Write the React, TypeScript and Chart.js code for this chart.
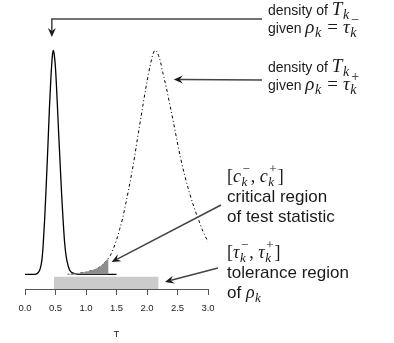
import React, { useEffect, useRef } from "react";
import { Chart, registerables } from "chart.js";
Chart.register(...registerables);

// density of T_k given rho_k = tau_k^- (solid)
const T_SOLID = [0, 0.15, 0.2, 0.25, 0.28, 0.3, 0.325, 0.35, 0.375, 0.4, 0.425, 0.45, 0.465, 0.48, 0.5, 0.525, 0.55, 0.575, 0.6, 0.625, 0.65, 0.675, 0.7, 0.725, 0.75, 0.8, 0.85, 0.9, 1.5];
const D_SOLID = [0, 0, 0.003, 0.025, 0.07, 0.14, 0.26, 0.41, 0.57, 0.74, 0.88, 0.98, 1.0, 0.98, 0.92, 0.79, 0.64, 0.5, 0.36, 0.24, 0.14, 0.08, 0.045, 0.024, 0.012, 0.004, 0.001, 0, 0];

// density of T_k given rho_k = tau_k^+ (dot-dash)
const T_DOT = [0.7, 0.8, 0.9, 1.0, 1.1, 1.2, 1.25, 1.3, 1.35, 1.4, 1.45, 1.5, 1.55, 1.6, 1.64, 1.7, 1.75, 1.8, 1.84, 1.9, 1.93, 2.0, 2.05, 2.1, 2.13, 2.17, 2.22, 2.26, 2.32, 2.38, 2.44, 2.49, 2.55, 2.61, 2.69, 2.77, 2.85, 2.92, 3.0];
const D_DOT = [0, 0.002, 0.005, 0.01, 0.017, 0.028, 0.038, 0.05, 0.065, 0.085, 0.115, 0.153, 0.2, 0.25, 0.3, 0.38, 0.452, 0.53, 0.6, 0.7, 0.75, 0.86, 0.93, 0.985, 1.0, 0.99, 0.95, 0.9, 0.83, 0.75, 0.67, 0.6, 0.52, 0.45, 0.37, 0.3, 0.24, 0.19, 0.145];

// critical region [c-, c+] under the tau+ density
const T_CRIT = [0.7, 0.8, 0.9, 1.0, 1.1, 1.2, 1.25, 1.3, 1.35, 1.37];
const D_CRIT = [0, 0.002, 0.005, 0.01, 0.017, 0.028, 0.038, 0.05, 0.065, 0.072];

// tolerance region [tau-, tau+]
const TOL_RANGE = [0.475, 2.19];
const TOL_TOP = -0.011;

const X_MIN = 0;
const X_MAX = 3;
const X_STEP = 0.5;
const Y_MIN = -0.0657;
const Y_MAX = 1.1;

const SANS = '"Liberation Sans", Arial, Helvetica, sans-serif';
const SERIF = '"Liberation Serif", "Times New Roman", serif';

type Part = { t: string; f: "s" | "m" | "r"; sub?: string; sup?: string; gap?: number };

function drawRich(ctx: CanvasRenderingContext2D, x: number, y: number, parts: Part[], sz: number, msz: number) {
  let cx = x;
  ctx.textBaseline = "alphabetic";
  ctx.textAlign = "left";
  for (const p of parts) {
    const font =
      p.f === "s"
        ? `${sz}px ${SANS}`
        : p.f === "m"
        ? `italic ${msz}px ${SERIF}`
        : `${msz}px ${SERIF}`;
    ctx.font = font;
    cx += p.gap || 0;
    ctx.fillText(p.t, cx, y);
    cx += ctx.measureText(p.t).width + (p.gap || 0);
    if (p.sub || p.sup) {
      const ss = Math.round(msz * 0.72);
      let w = 0;
      if (p.sub) {
        ctx.font = `italic ${ss}px ${SERIF}`;
        ctx.fillText(p.sub, cx + 0.5, y + 4);
        w = Math.max(w, ctx.measureText(p.sub).width);
      }
      if (p.sup) {
        ctx.font = `${ss}px ${SERIF}`;
        ctx.fillText(p.sup, cx + 1.5, y - 9);
        w = Math.max(w, ctx.measureText(p.sup).width + 1);
      }
      cx += w + 1.5;
    }
  }
}

function arrow(ctx: CanvasRenderingContext2D, pts: number[][]) {
  const n = pts.length;
  const [fx, fy] = pts[n - 2];
  const [tx, ty] = pts[n - 1];
  const a = Math.atan2(ty - fy, tx - fx);
  const len = 9;
  const half = 4;
  const c = Math.cos(a);
  const s = Math.sin(a);
  ctx.strokeStyle = "#444";
  ctx.lineWidth = 1.5;
  ctx.setLineDash([]);
  ctx.beginPath();
  ctx.moveTo(pts[0][0], pts[0][1]);
  for (let i = 1; i < n - 1; i++) ctx.lineTo(pts[i][0], pts[i][1]);
  ctx.lineTo(tx - 0.7 * len * c, ty - 0.7 * len * s);
  ctx.stroke();
  ctx.fillStyle = "#1a1a1a";
  ctx.beginPath();
  ctx.moveTo(tx, ty);
  ctx.lineTo(tx - len * c + half * s, ty - len * s - half * c);
  ctx.lineTo(tx - 0.65 * len * c, ty - 0.65 * len * s);
  ctx.lineTo(tx - len * c - half * s, ty - len * s + half * c);
  ctx.closePath();
  ctx.fill();
}

const annot = {
  id: "annot",
  afterDraw(chart: any) {
    const ctx: CanvasRenderingContext2D = chart.ctx;
    const xs = chart.scales.x;
    const ys = chart.scales.y;
    const px = (v: number) => xs.getPixelForValue(v);
    const py = (v: number) => ys.getPixelForValue(v);
    ctx.save();
    // arrows
    arrow(ctx, [[262, 19], [px(0.44), 19], [px(0.44), py(1.06)]]);
    arrow(ctx, [[262, 80], [px(2.44), py(0.87)]]);
    arrow(ctx, [[221, 205], [px(1.42), py(0.055)]]);
    arrow(ctx, [[218, 268], [px(2.295), py(-0.034)]]);
    // labels
    ctx.fillStyle = "#1a1a1a";
    const S = 14;
    const M = 19;
    drawRich(ctx, 268, 15, [{ t: "density of ", f: "s" }, { t: "T", f: "m", sub: "k" }], S, M);
    drawRich(ctx, 268, 33, [{ t: "given ", f: "s" }, { t: "ρ", f: "m", sub: "k" }, { t: "=", f: "r", gap: 5 }, { t: "τ", f: "m", sub: "k", sup: "−" }], S, M);
    drawRich(ctx, 268, 72, [{ t: "density of ", f: "s" }, { t: "T", f: "m", sub: "k" }], S, M);
    drawRich(ctx, 268, 90, [{ t: "given ", f: "s" }, { t: "ρ", f: "m", sub: "k" }, { t: "=", f: "r", gap: 5 }, { t: "τ", f: "m", sub: "k", sup: "+" }], S, M);
    const L = 17;
    const LM = 18;
    drawRich(ctx, 227, 182, [{ t: "[", f: "r" }, { t: "c", f: "m", sub: "k", sup: "−" }, { t: ", ", f: "r" }, { t: "c", f: "m", sub: "k", sup: "+" }, { t: "]", f: "r" }], L, LM);
    drawRich(ctx, 227, 202, [{ t: "critical region", f: "s" }], L, LM);
    drawRich(ctx, 227, 222, [{ t: "of test statistic", f: "s" }], L, LM);
    drawRich(ctx, 227, 258, [{ t: "[", f: "r" }, { t: "τ", f: "m", sub: "k", sup: "−" }, { t: ", ", f: "r" }, { t: "τ", f: "m", sub: "k", sup: "+" }, { t: "]", f: "r" }], L, LM);
    drawRich(ctx, 227, 278, [{ t: "tolerance region", f: "s" }], L, LM);
    drawRich(ctx, 227, 298, [{ t: "of ", f: "s" }, { t: "ρ", f: "m", sub: "k" }], L, LM);
    ctx.restore();
  },
};

const pts = (xs: number[], ys: number[]) => xs.map((x, i) => ({ x, y: ys[i] }));

export default function App() {
  const ref = useRef<HTMLCanvasElement>(null);
  useEffect(() => {
    if (!ref.current) return;
    const chart = new Chart(ref.current, {
      type: "line",
      data: {
        datasets: [
          {
            data: [{ x: TOL_RANGE[0], y: TOL_TOP }, { x: TOL_RANGE[1], y: TOL_TOP }],
            fill: { value: Y_MIN },
            backgroundColor: "#cbcbcb",
            borderColor: "rgba(0,0,0,0)",
            borderWidth: 0,
            pointRadius: 0,
          },
          {
            data: pts(T_CRIT, D_CRIT),
            fill: { value: 0 },
            backgroundColor: "#8e8e8e",
            borderColor: "#8e8e8e",
            borderWidth: 0.5,
            pointRadius: 0,
            tension: 0,
          },
          {
            data: pts(T_SOLID, D_SOLID),
            borderColor: "#000",
            borderWidth: 1.3,
            pointRadius: 0,
            fill: false,
            cubicInterpolationMode: "monotone",
          },
          {
            data: pts(T_DOT, D_DOT),
            borderColor: "#000",
            borderWidth: 1,
            borderDash: [1, 2.5, 3, 2.5],
            pointRadius: 0,
            fill: false,
            cubicInterpolationMode: "monotone",
          },
        ],
      } as any,
      options: {
        animation: false,
        responsive: false,
        maintainAspectRatio: false,
        layout: { padding: { left: 25, right: 186, top: 28, bottom: 0 } },
        plugins: { legend: { display: false }, tooltip: { enabled: false } },
        scales: {
          x: {
            type: "linear",
            min: X_MIN,
            max: X_MAX,
            z: 1,
            afterFit: (s: any) => {
              s.height = 54;
            },
            ticks: {
              stepSize: X_STEP,
              autoSkip: false,
              maxRotation: 0,
              padding: 8,
              color: "#222",
              font: { size: 9.5, family: SANS },
              callback: (v: any) => Number(v).toFixed(1),
            },
            grid: { drawOnChartArea: false, drawTicks: true, tickLength: 6, color: "#555", lineWidth: 1 },
            border: { display: true, color: "#555", width: 1 },
            title: { display: true, text: "T", color: "#222", font: { size: 9.5, family: SANS }, padding: { top: 0, bottom: 3 } },
          },
          y: { type: "linear", display: false, min: Y_MIN, max: Y_MAX },
        },
      } as any,
      plugins: [annot],
    });
    return () => chart.destroy();
  }, []);
  return (
    <div style={{ position: "fixed", left: 0, top: 0, width: 394, height: 343, background: "#fff" }}>
      <canvas ref={ref} width={394} height={343} style={{ width: 394, height: 343, display: "block" }} />
    </div>
  );
}
